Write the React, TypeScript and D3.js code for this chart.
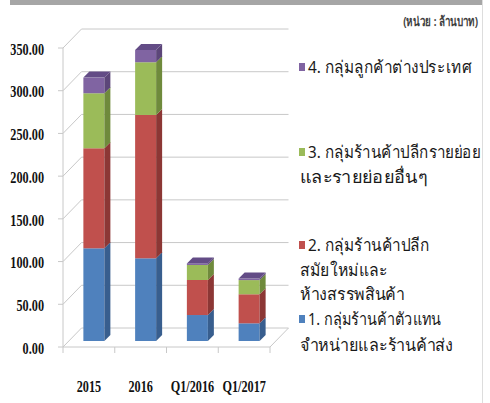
import React, { useLayoutEffect, useRef, useState } from 'react';
import * as d3 from 'd3';

const categories = ['2015', '2016', 'Q1/2016', 'Q1/2017'];
const seriesKeys = ['s1', 's2', 's3', 's4'];
const wholesaleAgents = [108.5, 96.8, 30.4, 20.7];
const modernTrade = [117.1, 167.8, 41.0, 34.0];
const retailOthers = [64.4, 61.7, 17.6, 16.6];
const overseas = [18.3, 14.4, 1.8, 1.8];
const yTicks = [0, 50, 100, 150, 200, 250, 300, 350];
const unitLabel = '(หน่วย : ล้านบาท)';
const legendItems = [
  { key: 's4', lines: ['4. กลุ่มลูกค้าต่างประเทศ'] },
  { key: 's3', lines: ['3. กลุ่มร้านค้าปลีกรายย่อย', 'และรายย่อยอื่นๆ'] },
  { key: 's2', lines: ['2. กลุ่มร้านค้าปลีก', 'สมัยใหม่และ', 'ห้างสรรพสินค้า'] },
  { key: 's1', lines: ['1. กลุ่มร้านค้าตัวแทน', 'จำหน่ายและร้านค้าส่ง'] },
];

const colors: Record<string, { front: string; side: string; top: string }> = {
  s1: { front: '#4F81BD', side: '#385E8E', top: '#3F6AA0' },
  s2: { front: '#C0504D', side: '#8C3735', top: '#A0413E' },
  s3: { front: '#9BBB59', side: '#6F8A3C', top: '#82A046' },
  s4: { front: '#8064A2', side: '#5C4679', top: '#634C86' },
};

// layout (not data)
const legendLayout: Record<string, { y: number[]; w: number[] }> = {
  s4: { y: [67], w: [160] },
  s3: { y: [152, 176], w: [171, 127] },
  s2: { y: [245, 269, 293], w: [120, 85, 105] },
  s1: { y: [319, 344], w: [133, 155] },
};

function FitText(props: {
  x: number;
  y: number;
  width: number;
  anchor?: 'start' | 'end';
  fontSize: number;
  fontFamily: string;
  fontWeight?: string;
  fill: string;
  children: string;
}) {
  const ref = useRef<SVGTextElement>(null);
  const [sx, setSx] = useState(0.8);
  useLayoutEffect(() => {
    if (ref.current) {
      const n = ref.current.getComputedTextLength();
      if (n > 0) setSx(props.width / n);
    }
  }, [props.width, props.children]);
  return (
    <text
      ref={ref}
      transform={`translate(${props.x},${props.y}) scale(${sx},1)`}
      textAnchor={props.anchor || 'start'}
      dominantBaseline="central"
      fontFamily={props.fontFamily}
      fontWeight={props.fontWeight}
      fontSize={props.fontSize}
      fill={props.fill}
    >
      {props.children}
    </text>
  );
}

export default function App() {
  const W = 490, H = 403;
  const x = d3.scaleBand<string>().domain(categories).range([63, 270]).padding(0);
  const y = d3.scaleLinear().domain([0, 350]).range([347, 48]);
  const DX = 18.5, DY = 19; // wall depth
  const OFF = 6; // bar offset into depth
  const BD = 6; // bar depth
  const BW = 21; // bar width

  const table = categories.map((c, i) => ({
    cat: c,
    s1: wholesaleAgents[i],
    s2: modernTrade[i],
    s3: retailOthers[i],
    s4: overseas[i],
  }));
  const stacked = d3.stack<any>().keys(seriesKeys)(table);

  const grid = '#C8C8C8';
  const serif = '"Liberation Serif", "Times New Roman", serif';
  const sans = '"Noto Sans", "DejaVu Sans", sans-serif';

  const bars: React.ReactNode[] = [];
  categories.forEach((c, ci) => {
    const x0 = (x(c) as number) + x.bandwidth() / 2 - BW / 2 + 5;
    stacked.forEach((layer, li) => {
      const [v0, v1] = layer[ci];
      const yT = y(v1) - OFF;
      const yB = y(v0) - OFF;
      const col = colors[layer.key];
      bars.push(
        <g key={`${c}-${layer.key}`}>
          <rect x={x0} y={yT} width={BW} height={yB - yT} fill={col.front} />
          <polygon
            points={`${x0 + BW},${yB} ${x0 + BW + BD},${yB - BD} ${x0 + BW + BD},${yT - BD} ${x0 + BW},${yT}`}
            fill={col.side}
          />
          {li === stacked.length - 1 && (
            <polygon
              points={`${x0},${yT} ${x0 + BD},${yT - BD} ${x0 + BW + BD},${yT - BD} ${x0 + BW},${yT}`}
              fill={col.top}
            />
          )}
        </g>
      );
    });
  });

  const catEdges = [...categories.map((c) => x(c) as number), 270];

  return (
    <div style={{ position: 'fixed', left: 0, top: 0, width: W, height: H, background: '#fff' }}>
      <svg width={W} height={H} viewBox={`0 0 ${W} ${H}`}>
        <rect x={0} y={0} width={W} height={H} fill="#fff" />
        <rect x={10} y={0} width={473} height={5} fill="#A6A6A6" />
        <line x1={482.5} y1={0} x2={482.5} y2={H} stroke="#DDDDDD" />
        <FitText
          x={478}
          y={21}
          width={76}
          anchor="end"
          fontFamily={sans}
          fontWeight="bold"
          fontSize={13}
          fill="#404040"
        >
          {unitLabel}
        </FitText>

        {/* walls */}
        {yTicks.map((t) => (
          <g key={t}>
            <line x1={63} y1={y(t)} x2={63 + DX} y2={y(t) - DY} stroke={grid} />
            <line x1={63 + DX} y1={y(t) - DY} x2={270 + DX} y2={y(t) - DY} stroke={grid} />
            <line x1={58} y1={y(t)} x2={63} y2={y(t)} stroke={grid} />
          </g>
        ))}
        <line x1={63} y1={y(0)} x2={63} y2={y(350)} stroke={grid} />
        <line x1={63} y1={y(0)} x2={270} y2={y(0)} stroke={grid} />
        <line x1={270} y1={y(0)} x2={270 + DX} y2={y(0) - DY} stroke={grid} />
        {catEdges.map((e, i) => (
          <line key={i} x1={e} y1={y(0)} x2={e} y2={y(0) + 6} stroke={grid} />
        ))}

        {bars}

        {/* y labels */}
        {yTicks.map((t) => (
          <text
            key={t}
            transform={`translate(44,${y(t) + 1}) scale(0.72,1)`}
            textAnchor="end"
            dominantBaseline="central"
            fontFamily={serif}
            fontWeight="bold"
            fontSize={17}
            fill="#111"
          >
            {d3.format('.2f')(t)}
          </text>
        ))}

        {/* x labels */}
        {categories.map((c) => (
          <text
            key={c}
            transform={`translate(${(x(c) as number) + x.bandwidth() / 2},386) scale(0.72,1)`}
            textAnchor="middle"
            dominantBaseline="central"
            fontFamily={serif}
            fontWeight="bold"
            fontSize={17}
            fill="#111"
          >
            {c}
          </text>
        ))}

        {/* legend */}
        {legendItems.map((it) => {
          const lay = legendLayout[it.key];
          return (
            <g key={it.key}>
              <rect x={299} y={lay.y[0] - 4} width={6} height={8} fill={colors[it.key].front} />
              {it.lines.map((ln, i) => (
                <FitText
                  key={i}
                  x={i === 0 ? 308 : 300}
                  y={lay.y[i]}
                  width={lay.w[i]}
                  fontFamily={sans}
                  fontSize={17}
                  fill="#1a1a1a"
                >
                  {ln}
                </FitText>
              ))}
            </g>
          );
        })}
      </svg>
    </div>
  );
}
